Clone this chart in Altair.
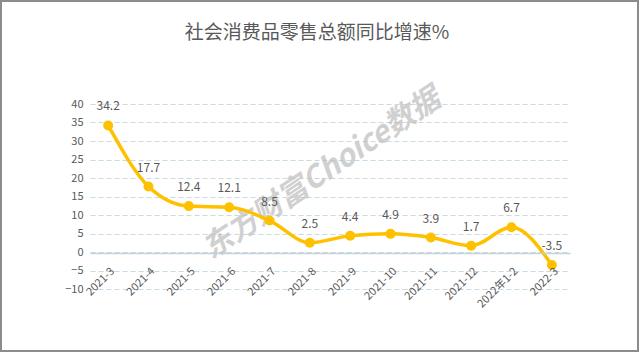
import altair as alt
import pandas as pd

months = ["2021-3", "2021-4", "2021-5", "2021-6", "2021-7", "2021-8", "2021-9",
          "2021-10", "2021-11", "2021-12", "2022年1-2", "2022-3"]
growth = [34.2, 17.7, 12.4, 12.1, 8.5, 2.5, 4.4, 4.9, 3.9, 1.7, 6.7, -3.5]
title_text = "社会消费品零售总额同比增速%"
watermark = "东方财富Choice数据"

df = pd.DataFrame({"month": months, "value": growth,
                   "label": [f"{v:.1f}" for v in growth]})

FONT = "Noto Sans CJK SC"
TXT = "#595959"
GRID = "#c6dae5"

x_enc = alt.X("month:N", sort=months, title=None,
              scale=alt.Scale(type="point", padding=0.45),
              axis=alt.Axis(labelAngle=315, labelFontSize=11, labelColor=TXT,
                            labelFont=FONT, ticks=False, domain=True,
                            domainColor="#c2d3dc", domainWidth=1.5,
                            offset=-36, labelPadding=12, grid=False,
                            labelOverlap=False, zindex=1))
y_enc = alt.Y("value:Q", title=None,
              scale=alt.Scale(domain=[-10, 40], nice=False, zero=False),
              axis=alt.Axis(values=list(range(-10, 45, 5)), labelFontSize=11,
                            labelColor=TXT, labelFont=FONT, ticks=False,
                            domain=False, gridColor=GRID, gridDash=[5, 3],
                            gridWidth=1, labelPadding=7, labelOverlap=False))

base = alt.Chart(df).encode(x=x_enc, y=y_enc)

line = base.mark_line(color="#FFC000", strokeWidth=3.5, interpolate="monotone")
pts = base.mark_point(color="#FFC000", filled=True, opacity=1, size=100)
labels = base.mark_text(font=FONT, fontSize=12, color=TXT, baseline="middle", dy=-19).encode(
    text="label:N")

wm = alt.Chart(pd.DataFrame({"t": [watermark]})).mark_text(
    font=FONT, fontSize=30, fontWeight="bold", fontStyle="italic", color="#bdbdbd",
    opacity=0.7, angle=326, align="center", baseline="middle").encode(
    text="t:N", x=alt.value(232), y=alt.value(70))

ttl = alt.Chart(pd.DataFrame({"t": [title_text]})).mark_text(
    font=FONT, fontSize=19, color=TXT, align="center", baseline="middle").encode(
    text="t:N", x=alt.value(227), y=alt.value(-71))

frame = alt.Chart(pd.DataFrame({"a": [0]})).mark_rect(
    fill=None, fillOpacity=0, stroke="#8c8c8c", strokeWidth=2).encode(
    x=alt.value(-89), x2=alt.value(548), y=alt.value(-103), y2=alt.value(247))

chart = alt.layer(wm, line, pts, labels, ttl, frame).properties(
    width=480, height=185,
    autosize=alt.AutoSizeParams(type="none"),
    padding={"left": 90, "right": 70, "top": 104, "bottom": 64},
    background="white",
).configure_view(stroke=None)

chart.save("out.html", embed_options={"renderer": "svg", "actions": False})
